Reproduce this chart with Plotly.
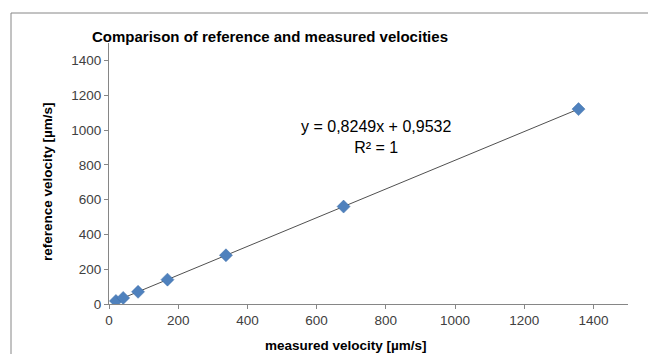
import plotly.graph_objects as go

# Data
measured_velocity = [20, 41, 84, 169, 338, 678, 1357]
reference_velocity = [17.5, 35, 70, 140, 280, 560, 1120]
slope = 0.8249
intercept = 0.9532
x_ticks = [0, 200, 400, 600, 800, 1000, 1200, 1400]
y_ticks = [0, 200, 400, 600, 800, 1000, 1200, 1400]

W, H = 648, 354
L, R, T, B = 109, 20, 43, 50
pw, ph = W - L - R, H - T - B


def px(xp):
    return (xp - L) / pw


def py(yp):
    return (H - B - yp) / ph


trend_x = [min(measured_velocity), max(measured_velocity)]
trend_y = [slope * v + intercept for v in trend_x]

fig = go.Figure()
fig.add_trace(go.Scatter(
    x=trend_x, y=trend_y, mode="lines",
    line=dict(color="#505050", width=1), hoverinfo="skip", showlegend=False))
fig.add_trace(go.Scatter(
    x=measured_velocity, y=reference_velocity, mode="markers",
    marker=dict(symbol="diamond", size=10, color="#4F81BD",
                line=dict(color="#3f6fa8", width=0.5)),
    showlegend=False))

font_family = "Liberation Sans, Arial, sans-serif"
axis_common = dict(showgrid=False, zeroline=False, showline=True,
                   linecolor="#868686", linewidth=1, ticks="outside",
                   ticklen=4, tickcolor="#868686",
                   tickfont=dict(family=font_family, size=13.5, color="#404040"))

fig.update_layout(
    width=W, height=H,
    margin=dict(l=L, r=R, t=T, b=B),
    paper_bgcolor="white", plot_bgcolor="white",
    title=dict(text="<b>Comparison of reference and measured velocities</b>",
               x=px(270), xref="paper", xanchor="center",
               y=1 - 37 / H, yanchor="middle",
               font=dict(family=font_family, size=15, color="black")),
    xaxis=dict(range=[0, 1500], tickvals=x_ticks, **axis_common),
    yaxis=dict(range=[0, 1500], tickvals=y_ticks, **axis_common),
    annotations=[
        dict(text="y = 0,8249x + 0,9532<br>R² = 1", x=px(376), y=py(116),
             xref="paper", yref="paper", showarrow=False, align="center",
             font=dict(family=font_family, size=16, color="black")),
        dict(text="<b>measured velocity [µm/s]</b>", x=px(346), y=py(345),
             xref="paper", yref="paper", showarrow=False,
             xanchor="center", yanchor="middle",
             font=dict(family=font_family, size=13.5, color="black")),
        dict(text="<b>reference velocity [µm/s]</b>", x=px(47), y=py(182),
             xref="paper", yref="paper", showarrow=False, textangle=-90,
             xanchor="center", yanchor="middle",
             font=dict(family=font_family, size=13.5, color="black")),
    ],
    shapes=[
        dict(type="rect", xref="paper", yref="paper",
             x0=px(11), x1=px(700), y0=py(420), y1=py(13),
             line=dict(color="#868686", width=1), fillcolor="rgba(0,0,0,0)",
             layer="below"),
    ],
)

fig.write_html("out.html")
